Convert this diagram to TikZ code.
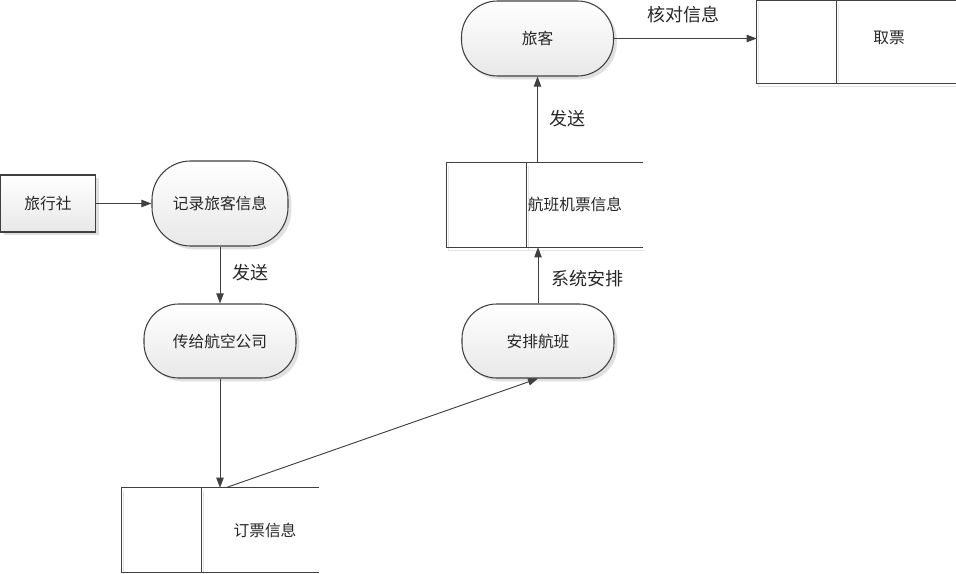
\documentclass[tikz,border=0pt]{standalone}
\usepackage{fontspec}
\setmainfont{Noto Sans CJK SC}
\usetikzlibrary{arrows.meta,shadows,calc}
\definecolor{ln}{HTML}{404040}
\definecolor{shd}{HTML}{E4E4E4}
\tikzset{
  proc/.style={draw=ln, line width=0.8pt, rounded corners=26pt, top color=white, bottom color=black!9,
    drop shadow={shadow xshift=2.5pt, shadow yshift=-2.5pt, fill=black!12, opacity=1},
    font=\fontsize{11.8}{14}\selectfont, text=black!85},
  ext/.style={draw=ln, line width=0.8pt, top color=white, bottom color=black!9,
    drop shadow={shadow xshift=2.5pt, shadow yshift=-2.5pt, fill=black!12, opacity=1},
    font=\fontsize{11.8}{14}\selectfont, text=black!85},
  storebox/.style={inner sep=0pt, draw=none},
  storetext/.style={font=\fontsize{11.8}{14}\selectfont, text=black!85, inner sep=0pt},
  storeline/.style={draw=ln, line width=0.8pt},
  storeshadow/.style={draw=shd, line width=1pt},
  flow/.style={draw=ln, line width=0.7pt, -{Triangle[length=7.5pt,width=5.5pt]}},
  elabel/.style={font=\fontsize{13.5}{15}\selectfont, text=black!85, inner sep=0pt}
}
\begin{document}
\begin{tikzpicture}[x=0.75pt,y=-0.75pt]
\useasboundingbox (0,0) rectangle (956,574);
% external entity
\node[ext, minimum width=94.5*0.75pt, minimum height=57*0.75pt] (trav) at (48,203.5) {旅行社};
% processes
\node[proc, rounded corners=29pt, minimum width=136*0.75pt, minimum height=85*0.75pt] (rec) at (220,203.5) {记录旅客信息};
\node[proc, minimum width=152*0.75pt, minimum height=74*0.75pt] (pass) at (220,341) {传给航空公司};
\node[proc, minimum width=152*0.75pt, minimum height=74*0.75pt] (arr) at (538,341) {安排航班};
\node[proc, rounded corners=27pt, minimum width=152*0.75pt, minimum height=75*0.75pt] (lk) at (537.5,38.5) {旅客};
% data stores (open right side)
\node[storebox, minimum width=199*0.75pt, minimum height=82*0.75pt] (tk) at (856.5,42) {};
\node[storebox, minimum width=196*0.75pt, minimum height=84*0.75pt] (fl) at (545,205) {};
\node[storebox, minimum width=197*0.75pt, minimum height=84*0.75pt] (ord) at (220.5,530) {};
\foreach \s/\d in {tk/80,fl/80,ord/80}{
  \draw[storeshadow] ($(\s.north west)+(2,3)$) -- ($(\s.south west)+(2,3)$) -- ($(\s.south east)+(2,3)$);
  \draw[storeshadow] ($(\s.north west)+(\d+2,3)$) -- ($(\s.south west)+(\d+2,3)$);
  \draw[storeline] (\s.north east) -- (\s.north west) -- (\s.south west) -- (\s.south east);
  \draw[storeline] ($(\s.north west)+(\d,0)$) -- ($(\s.south west)+(\d,0)$);
}
\node[storetext] (tkt) at (889,38) {取票};
\node[storetext] (flt) at (575,204) {航班机票信息};
\node[storetext] (ordt) at (265,530) {订票信息};
% flows
\draw[flow] (trav.east) -- (rec.west);
\draw[flow] (rec.south) -- (pass.north);
\draw[flow] (pass.south) -- (pass.south |- ord.north);
\coordinate (ordout) at ($(ord.north west)+(104,0)$);
\draw[flow] (ordout) -- (arr.south);
\draw[flow] (arr.north) -- (arr.north |- fl.south);
\draw[flow] (lk.south |- fl.north) -- (lk.south);
\draw[flow] (lk.east) -- (lk.east -| tk.west);
% flow labels
\node[elabel] (l1) at (250,273) {发送};
\node[elabel] (l2) at (587,279) {系统安排};
\node[elabel] (l3) at (567,119) {发送};
\node[elabel] (l4) at (683,15) {核对信息};
\end{tikzpicture}
\end{document}
